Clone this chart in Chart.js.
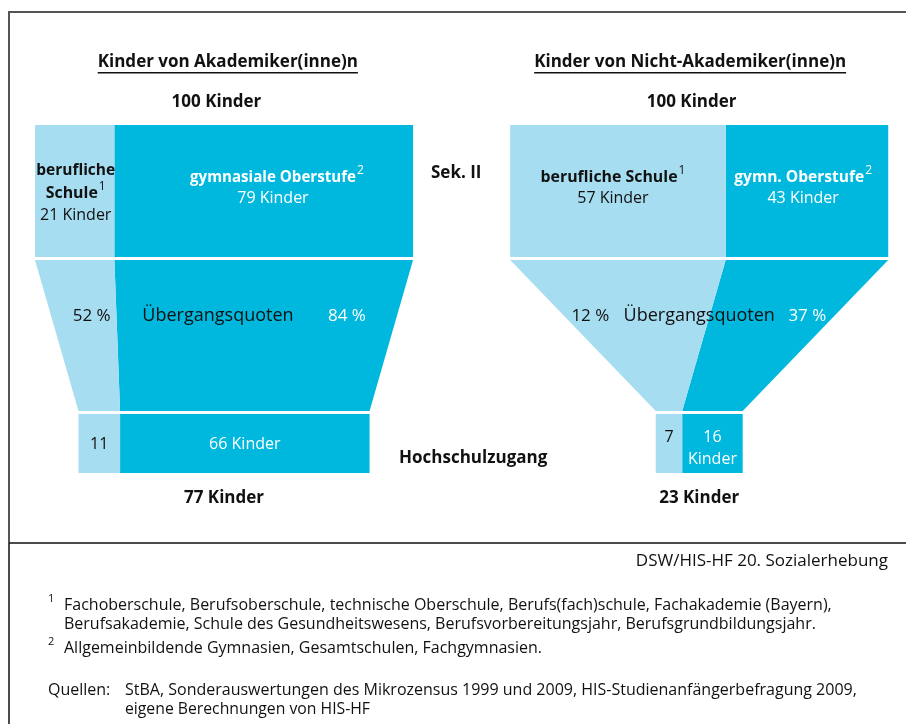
<!DOCTYPE html>
<html>
<head>
<meta charset="utf-8">
<title>Hochschulzugang nach Bildungsherkunft</title>
<script src="https://cdn.jsdelivr.net/npm/chart.js@4/dist/chart.umd.min.js"></script>
<style>
  body { margin: 0; background: #fff; }
  canvas { display: block; }
</style>
</head>
<body>
<canvas id="funnelChart" width="906" height="724"></canvas>
<script>
// --- data (number of children out of 100, quotas in %) ---
const panelTitles = ['Kinder von Akademiker(inne)n', 'Kinder von Nicht-Akademiker(inne)n'];
const startTotals = [100, 100];
const sekBeruflich = [21, 57];
const sekGymn = [79, 43];
const quoteBeruflich = [52, 12];
const quoteGymn = [84, 37];
const hsBeruflich = [11, 7];
const hsGymn = [66, 16];
const hsTotals = [77, 23];

const LIGHT = '#a6ddf0';
const DARK = '#00b8de';
const FONT = '"Open Sans", Lato, sans-serif';

// layout: x in "Kinder" units, each panel shifted; y in canvas pixels (reversed scale)
const PANEL_OFFSET = [0, 125.7];
const X_MIN = -9.26, X_MAX = 230.4;
const BAND = { sekTop: 125, sekBot: 257, funTop: 260, funBot: 411, hsTop: 414, hsBot: 473 };

function poly(points, color) {
  return {
    data: points.concat([points[0]]),
    backgroundColor: color,
    borderColor: 'rgba(0,0,0,0)',
    borderWidth: 0,
    pointRadius: 0,
    showLine: true,
    tension: 0,
    fill: 'shape'
  };
}

function rect(p, x0, x1, y0, y1, color) {
  const o = PANEL_OFFSET[p];
  return poly([{x: x0 + o, y: y0}, {x: x1 + o, y: y0}, {x: x1 + o, y: y1}, {x: x0 + o, y: y1}], color);
}

const datasets = [];
panelTitles.forEach((t, p) => {
  const o = PANEL_OFFSET[p];
  const total = sekBeruflich[p] + sekGymn[p];
  const left = (total - hsTotals[p]) / 2;          // bottom bar is centred
  const split = left + hsBeruflich[p];
  // Sek. II
  datasets.push(rect(p, 0, sekBeruflich[p], BAND.sekTop, BAND.sekBot, LIGHT));
  datasets.push(rect(p, sekBeruflich[p], total, BAND.sekTop, BAND.sekBot, DARK));
  // funnel
  datasets.push(poly([
    {x: o, y: BAND.funTop}, {x: sekBeruflich[p] + o, y: BAND.funTop},
    {x: split + o, y: BAND.funBot}, {x: left + o, y: BAND.funBot}
  ], LIGHT));
  datasets.push(poly([
    {x: sekBeruflich[p] + o, y: BAND.funTop}, {x: total + o, y: BAND.funTop},
    {x: left + hsTotals[p] + o, y: BAND.funBot}, {x: split + o, y: BAND.funBot}
  ], DARK));
  // Hochschulzugang
  datasets.push(rect(p, left, split, BAND.hsTop, BAND.hsBot, LIGHT));
  datasets.push(rect(p, split, split + hsGymn[p], BAND.hsTop, BAND.hsBot, DARK));
});

function put(ctx, str, x, y, size, weight, color, align, maxW) {
  ctx.font = weight + ' ' + size + 'px ' + FONT;
  ctx.fillStyle = color;
  ctx.textAlign = align || 'center';
  ctx.textBaseline = 'middle';
  if (maxW) ctx.fillText(str, x, y, maxW);
  else ctx.fillText(str, x, y);
}

function putSup(ctx, str, sup, cx, y, size, weight, color, maxW) {
  ctx.font = weight + ' ' + size + 'px ' + FONT;
  const w1 = Math.min(ctx.measureText(str).width, maxW || 9999);
  ctx.font = '400 ' + (size - 4) + 'px ' + FONT;
  const w2 = ctx.measureText(sup).width;
  const x0 = cx - (w1 + w2 + 1) / 2;
  put(ctx, str, x0, y, size, weight, color, 'left', maxW);
  put(ctx, sup, x0 + w1 + 1, y - 6, size - 4, '400', color, 'left');
}

const labelPlugin = {
  id: 'labels',
  afterDatasetsDraw(chart) {
    const ctx = chart.ctx;
    const xs = chart.scales.x, ys = chart.scales.y;
    const X = (u, p) => xs.getPixelForValue(u + PANEL_OFFSET[p]);
    const Y = v => ys.getPixelForValue(v);
    ctx.save();

    // frame
    ctx.strokeStyle = '#555';
    ctx.lineWidth = 2;
    ctx.beginPath();
    ctx.moveTo(906, 12); ctx.lineTo(9, 12); ctx.lineTo(9, 543);
    ctx.stroke();
    ctx.strokeStyle = '#111';
    ctx.lineWidth = 1.5;
    ctx.beginPath();
    ctx.moveTo(9, 543); ctx.lineTo(9, 724);
    ctx.moveTo(9, 543); ctx.lineTo(906, 543);
    ctx.stroke();

    const titleShift = [1, -2.4];
    const titleWidth = [270, 328];
    panelTitles.forEach((t, p) => {
      const total = sekBeruflich[p] + sekGymn[p];
      const left = (total - hsTotals[p]) / 2;
      const split = left + hsBeruflich[p];

      // underlined title
      const tx = X(total / 2 + titleShift[p], p);
      put(ctx, t, tx, Y(62), 17, 'bold', '#111', 'center', titleWidth[p]);
      const tw = Math.min(ctx.measureText(t).width, titleWidth[p]);
      ctx.fillStyle = '#111';
      ctx.fillRect(tx - tw / 2, Y(72), tw, 1.5);

      put(ctx, startTotals[p] + ' Kinder', X(total / 2 - 2, p), Y(102), 17, 'bold', '#111', 'center', 97);
      put(ctx, hsTotals[p] + ' Kinder', X(total / 2, p), Y(498), 17, 'bold', '#111', 'center', 97);

      // Sek. II labels
      const lx = X(sekBeruflich[p] / 2, p);
      const dx = X((sekBeruflich[p] + total) / 2 + (p === 0 ? 3.5 : -1), p);
      if (p === 0) {
        put(ctx, 'berufliche', lx + 1, Y(170), 16, 'bold', '#111', 'center', 79);
        putSup(ctx, 'Schule', '1', lx + 1, Y(193), 16, 'bold', '#111', 52);
        put(ctx, sekBeruflich[p] + ' Kinder', lx + 1, Y(215), 16, '400', '#111', 'center', 74);
        putSup(ctx, 'gymnasiale Oberstufe', '2', dx, Y(177), 16, 'bold', '#fff', 166);
      } else {
        putSup(ctx, 'berufliche Schule', '1', lx - 5, Y(177), 16, 'bold', '#111', 137);
        putSup(ctx, 'gymn. Oberstufe', '2', dx, Y(177), 16, 'bold', '#fff', 130);
        put(ctx, sekBeruflich[p] + ' Kinder', lx - 5, Y(198), 16, '400', '#111', 'center', 73);
      }
      put(ctx, sekGymn[p] + ' Kinder', dx - (p === 0 ? 4 : 0), Y(198), 16, '400', '#fff', 'center', 80);

      // transition quotas
      const qPos = p === 0 ? [15, 48.4, 82.5] : [21.2, 50, 78.6];
      put(ctx, quoteBeruflich[p] + ' %', X(qPos[0], p), Y(316), 17, '400', '#111', 'center', 41);
      put(ctx, 'Übergangsquoten', X(qPos[1], p), Y(316), 18, '400', '#111', 'center', 155);
      put(ctx, quoteGymn[p] + ' %', X(qPos[2], p), Y(316), 17, '400', '#fff', 'center', 41);

      // Hochschulzugang labels
      const bx = X((left + split) / 2, p);
      const gx = X(split + hsGymn[p] / 2, p);
      if (p === 0) {
        put(ctx, String(hsBeruflich[p]), bx, Y(444), 16, '400', '#111');
        put(ctx, hsGymn[p] + ' Kinder', gx, Y(444), 16, '400', '#fff', 'center', 74);
      } else {
        put(ctx, String(hsBeruflich[p]), bx, Y(437), 16, '400', '#111');
        put(ctx, String(hsGymn[p]), gx, Y(437), 16, '400', '#fff');
        put(ctx, 'Kinder', gx, Y(459), 16, '400', '#fff', 'center', 50);
      }
    });

    put(ctx, 'Sek. II', 431, Y(173), 17, 'bold', '#111', 'left', 57);
    put(ctx, 'Hochschulzugang', 399, Y(458), 17, 'bold', '#111', 'left', 157);

    // source and footnotes
    put(ctx, 'DSW/HIS-HF 20. Sozialerhebung', 888, 561, 17, '400', '#111', 'right', 290);
    put(ctx, '1', 48, 599, 11, '400', '#111', 'left');
    put(ctx, 'Fachoberschule, Berufsoberschule, technische Oberschule, Berufs(fach)schule, Fachakademie (Bayern),',
        64, 605, 16, '400', '#111', 'left', 793);
    put(ctx, 'Berufsakademie, Schule des Gesundheitswesens, Berufsvorbereitungsjahr, Berufsgrundbildungsjahr.',
        64, 624, 16, '400', '#111', 'left', 756);
    put(ctx, '2', 48, 642, 11, '400', '#111', 'left');
    put(ctx, 'Allgemeinbildende Gymnasien, Gesamtschulen, Fachgymnasien.', 64, 648, 16, '400', '#111', 'left', 487);
    put(ctx, 'Quellen:', 48, 690, 16, '400', '#111', 'left', 63);
    put(ctx, 'StBA, Sonderauswertungen des Mikrozensus 1999 und 2009, HIS-Studienanfängerbefragung 2009,',
        125, 690, 16, '400', '#111', 'left', 733);
    put(ctx, 'eigene Berechnungen von HIS-HF', 125, 709, 16, '400', '#111', 'left', 245);

    ctx.restore();
  }
};

new Chart(document.getElementById('funnelChart'), {
  type: 'scatter',
  data: { datasets: datasets },
  options: {
    responsive: false,
    animation: false,
    devicePixelRatio: 1,
    layout: { padding: 0 },
    scales: {
      x: { type: 'linear', min: X_MIN, max: X_MAX, display: false },
      y: { type: 'linear', min: 0, max: 724, reverse: true, display: false }
    },
    plugins: {
      legend: { display: false },
      tooltip: { enabled: false }
    }
  },
  plugins: [labelPlugin]
});
</script>
</body>
</html>
